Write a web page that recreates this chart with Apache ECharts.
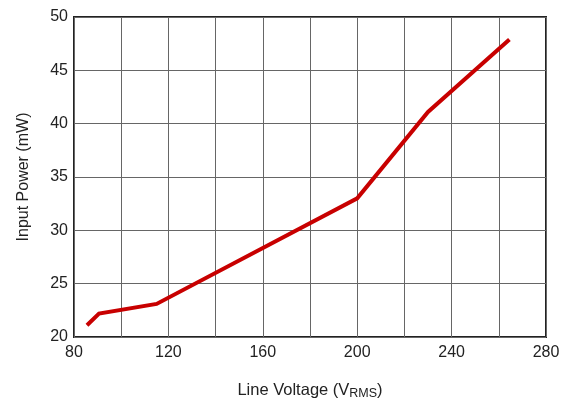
<!DOCTYPE html>
<html><head><meta charset="utf-8">
<script src="https://cdn.jsdelivr.net/npm/echarts@6/dist/echarts.min.js"></script>
<style>html,body{margin:0;padding:0;background:#fff}#c{width:568px;height:402px}</style>
</head><body><div id="c"></div>
<script>
const lineVoltage = [85.5, 90.6, 115, 200, 230, 264.5];
const inputPower = [21.1, 22.2, 23.1, 33.0, 41.1, 47.9];
const xTickLabels = [80, 120, 160, 200, 240, 280];
const yTickLabels = [20, 25, 30, 35, 40, 45, 50];

const chart = echarts.init(document.getElementById('c'), null, {renderer: 'canvas'});
const font = '"Liberation Sans", Arial, sans-serif';
chart.setOption({
  animation: false,
  backgroundColor: '#fff',
  grid: {left: 74, right: 22, top: 17, bottom: 65, outerBoundsMode: 'none', containLabel: false,
         show: true, borderColor: '#222', borderWidth: 2, backgroundColor: 'transparent'},
  xAxis: {
    type: 'value', min: 80, max: 280, interval: 20,
    axisLine: {show: false}, axisTick: {show: false},
    splitLine: {show: true, lineStyle: {color: '#666', width: 1}},
    axisLabel: {
      color: '#222', fontSize: 16, fontFamily: font, margin: 8,
      formatter: v => xTickLabels.includes(v) ? String(v) : ''
    },
    name: '{a|Line Voltage (V}{b|RMS}{a|)}',
    nameLocation: 'middle', nameGap: 44,
    nameTextStyle: {
      rich: {
        a: {fontSize: 16.5, fontFamily: font, color: '#222'},
        b: {fontSize: 12.5, fontFamily: font, color: '#222', verticalAlign: 'bottom', padding: [6, 0, 0, 0]}
      }
    }
  },
  yAxis: {
    type: 'value', min: 20, max: 50, interval: 5,
    axisLine: {show: false}, axisTick: {show: false},
    splitLine: {show: true, lineStyle: {color: '#666', width: 1}},
    axisLabel: {
      color: '#222', fontSize: 16, fontFamily: font, margin: 6,
      formatter: v => yTickLabels.includes(v) ? String(v) : ''
    },
    name: 'Input Power (mW)', nameLocation: 'middle', nameGap: 42, nameRotate: 90,
    nameTextStyle: {fontSize: 16, fontFamily: font, color: '#222'}
  },
  series: [{
    type: 'line',
    data: lineVoltage.map((x, i) => [x, inputPower[i]]),
    showSymbol: false, symbol: 'none',
    lineStyle: {color: '#c80000', width: 4, cap: 'butt', join: 'miter'}
  }]
});
</script></body></html>
